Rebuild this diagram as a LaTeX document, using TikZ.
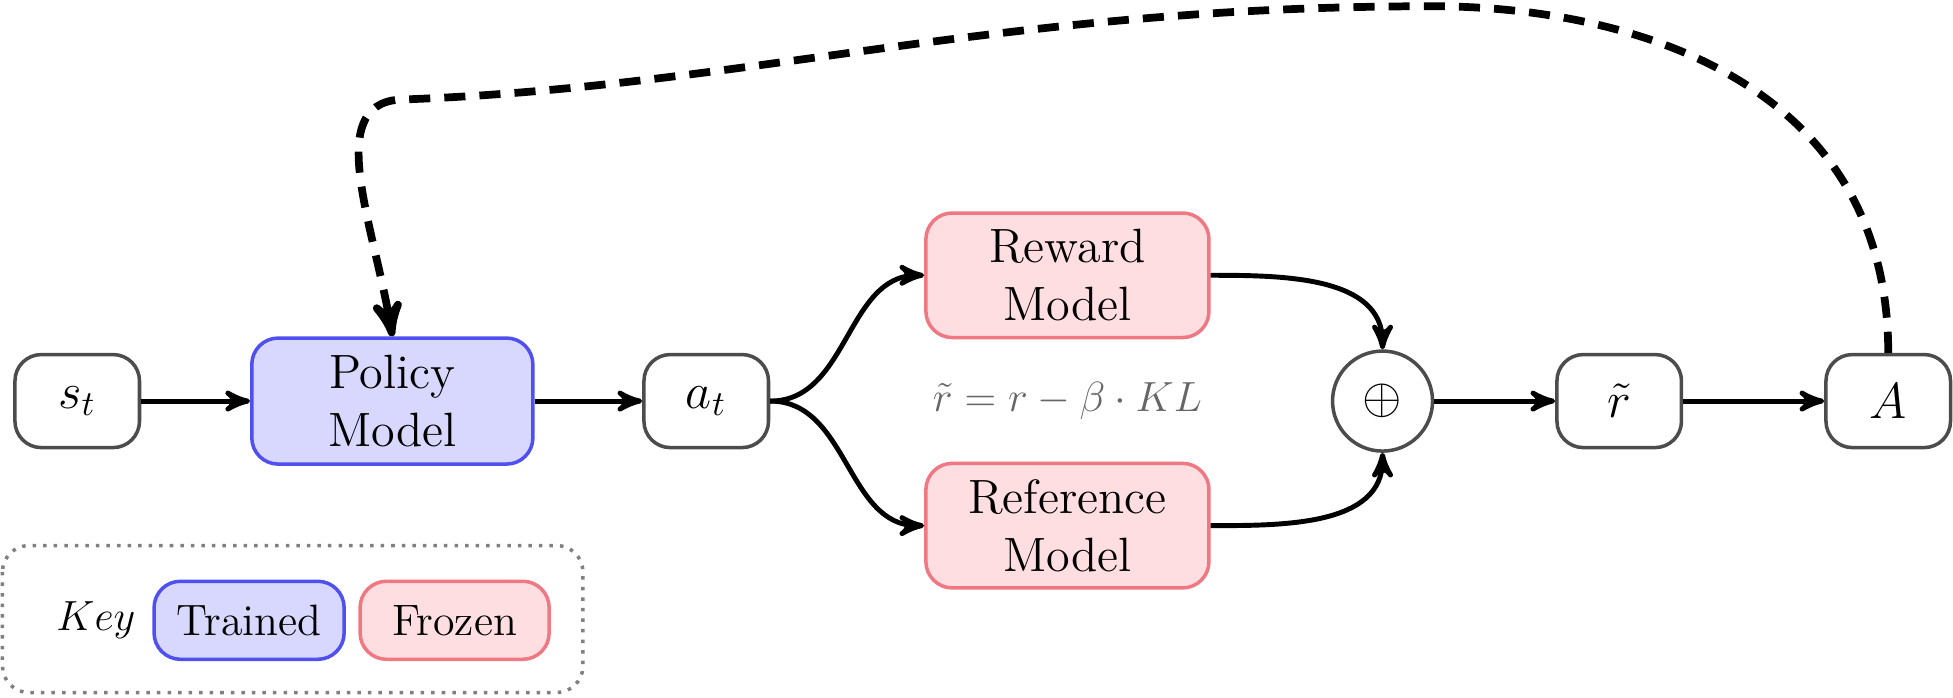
\documentclass[tikz,border=0pt,11pt]{standalone}
\usepackage{amsmath}
\usepackage{amssymb}
\usetikzlibrary{arrows,shapes}

\definecolor{trainfill}{RGB}{216,216,255}
\definecolor{traindraw}{RGB}{80,80,240}
\definecolor{frozfill}{RGB}{255,222,226}
\definecolor{frozdraw}{RGB}{240,120,130}

\tikzset{
  every node/.style={font=\fontsize{13.7}{16.5}\selectfont},
  small/.style={font=\fontsize{12.5}{15}\selectfont},
  box/.style={draw=black!70, rounded corners=7.5pt, minimum width=1.245cm, minimum height=0.93cm, line width=1pt},
  trained/.style={box, fill=trainfill, draw=traindraw, minimum width=2.81cm, minimum height=1.26cm, align=center},
  frozen/.style={box, fill=frozfill, draw=frozdraw, minimum width=2.83cm, minimum height=1.245cm, align=center},
  flow/.style={-stealth', line width=1.4pt},
  feedback/.style={-stealth', line width=2.2pt, dash pattern=on 6pt off 4pt},
}

\begin{document}
\begin{tikzpicture}[x=0.01245cm, y=-0.01245cm]
                \useasboundingbox (0,0) rectangle (1568,560);
                % main row
                \node[box] (s) at (62,322) {$s_t$};
                \node[trained] (policy) at (315,322) {Policy\\Model};
                \node[box] (a) at (567,322) {$a_t$};
                \node[frozen] (reward) at (857,221) {Reward\\Model};
                \node[frozen] (ref) at (857,422) {Reference\\Model};
                \node[draw=black!70, line width=1pt, circle, minimum size=1cm] (plus) at (1110,322) {$\oplus$};
                \node[box] (rt) at (1300,322) {$\tilde{r}$};
                \node[box] (adv) at (1516,322) {$A$};
                \node[small, text=black!60] (kl) at (857,322) {$\tilde{r} = r - \beta \cdot KL$};
                % arrows
                \draw[flow] (s) -- (policy);
                \draw[flow] (policy) -- (a);
                \draw[flow] (a.east) to[out=0,in=180] (reward.west);
                \draw[flow] (a.east) to[out=0,in=180] (ref.west);
                \draw[flow] (reward.east) to[out=0,in=90] (plus.north);
                \draw[flow] (ref.east) to[out=0,in=-90] (plus.south);
                \draw[flow] (plus) -- (rt);
                \draw[flow] (rt) -- (adv);
                \draw[feedback] (adv.north) .. controls (1516,60) and (1300,5) .. (1150,5)
                  .. controls (800,5) and (600,70) .. (320,80)
                  .. controls (260,85) and (300,180) .. (policy.north);
                % key
                \draw[dotted, line width=1pt, black!50, rounded corners=7.5pt] (2,438) rectangle (468,556);
                \node[small] (key) at (77,498) {$Key$};
                \node[trained, small, minimum width=1.9cm, minimum height=0.78cm] (ktrain) at (200,498) {Trained};
                \node[frozen, small, minimum width=1.89cm, minimum height=0.78cm] (kfroz) at (365,498) {Frozen};
            \end{tikzpicture}
\end{document}
